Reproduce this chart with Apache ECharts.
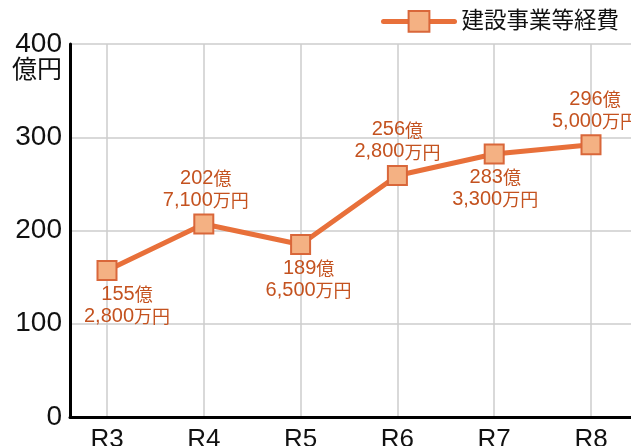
<!DOCTYPE html>
<html>
<head>
<meta charset="utf-8">
<script src="https://cdn.jsdelivr.net/npm/echarts@6/dist/echarts.min.js"></script>
<style>
html,body{margin:0;padding:0;background:#fff;}
#chart{width:631px;height:446px;}
</style>
</head>
<body>
<div id="chart"></div>
<script>
// ---- data ----
var categories = ['R3', 'R4', 'R5', 'R6', 'R7', 'R8'];
var seriesName = '建設事業等経費';
// plotted positions (億円)
var values = [157, 207, 185, 259, 282, 292];
// label texts
var labelOku = ['155', '202', '189', '256', '283', '296'];
var labelMan = ['2,800', '7,100', '6,500', '2,800', '3,300', '5,000'];
var yTicks = [0, 100, 200, 300, 400];
var yUnit = '億円';

// ---- styles ----
var labelPlace = ['bottom', 'top', 'bottom', 'top', 'bottom', 'top'];
var labelDx = [20, 2, 8, 0, 1, 4];
var fontLatin = '"Liberation Sans", "Noto Sans CJK JP", sans-serif';
var fontCJK = '"Noto Sans CJK JP", sans-serif';
var labelColor = '#c4521f';

var chart = echarts.init(document.getElementById('chart'), null, {renderer: 'canvas'});

var seriesData = values.map(function (v, i) {
  return {
    value: v,
    label: {
      position: labelPlace[i],
      offset: [labelDx[i], 0],
      formatter: '{n|' + labelOku[i] + '}{k|億}\n{n|' + labelMan[i] + '}{k|万円}'
    }
  };
});

var option = {
  animation: false,
  backgroundColor: '#ffffff',
  legend: {
    left: 381,
    top: 10,
    padding: 0,
    itemWidth: 71,
    itemHeight: 26,
    lineStyle: {width: 5},
    textStyle: {fontSize: 22.5, color: '#111', fontFamily: fontLatin, padding: [0, 0, 0, 2]},
    data: [seriesName]
  },
  graphic: [{
    type: 'text',
    right: 631 - 62,
    top: 56,
    style: {text: yUnit, fontSize: 25, fill: '#111', fontFamily: fontCJK}
  }],
  grid: [
    {left: 70, right: 0, top: 44, bottom: 29, containLabel: false, outerBoundsMode: 'none'},
    {left: 107, right: 40, top: 44, bottom: 29, containLabel: false, outerBoundsMode: 'none'}
  ],
  xAxis: [
    {
      gridIndex: 0, type: 'value', min: 0, max: 1,
      axisLine: {show: true, lineStyle: {color: '#000', width: 3}},
      axisTick: {show: false}, axisLabel: {show: false}, splitLine: {show: false}
    },
    {
      gridIndex: 1, type: 'category', data: categories, boundaryGap: false,
      axisLine: {show: false}, axisTick: {show: false},
      axisLabel: {fontSize: 26, color: '#111', fontFamily: fontLatin, margin: 10},
      splitLine: {show: true, lineStyle: {color: '#cccccc', width: 1.5}}
    }
  ],
  yAxis: [
    {
      gridIndex: 0, type: 'value', min: yTicks[0], max: yTicks[yTicks.length - 1], interval: 100,
      axisLine: {show: true, lineStyle: {color: '#000', width: 3}},
      axisTick: {show: false},
      axisLabel: {fontSize: 28, color: '#111', fontFamily: fontLatin, margin: 8},
      splitLine: {show: true, lineStyle: {color: '#cccccc', width: 1.5}}
    },
    {
      gridIndex: 1, type: 'value', min: 0, max: 400, interval: 100,
      axisLine: {show: false}, axisTick: {show: false}, axisLabel: {show: false}, splitLine: {show: false}
    }
  ],
  series: [{
    name: seriesName,
    type: 'line',
    xAxisIndex: 1, yAxisIndex: 1,
    data: seriesData,
    symbol: 'rect',
    symbolSize: 19,
    lineStyle: {color: '#e8703a', width: 5, cap: 'round'},
    itemStyle: {color: '#f4b183', borderColor: '#d9673a', borderWidth: 2},
    label: {
      show: true, distance: 2, align: 'center',
      color: labelColor,
      rich: {
        n: {fontSize: 20, lineHeight: 22, color: labelColor, fontFamily: fontLatin},
        k: {fontSize: 18, lineHeight: 22, color: labelColor, fontFamily: fontCJK}
      }
    },
    z: 5
  }]
};
chart.setOption(option);
</script>
</body>
</html>
